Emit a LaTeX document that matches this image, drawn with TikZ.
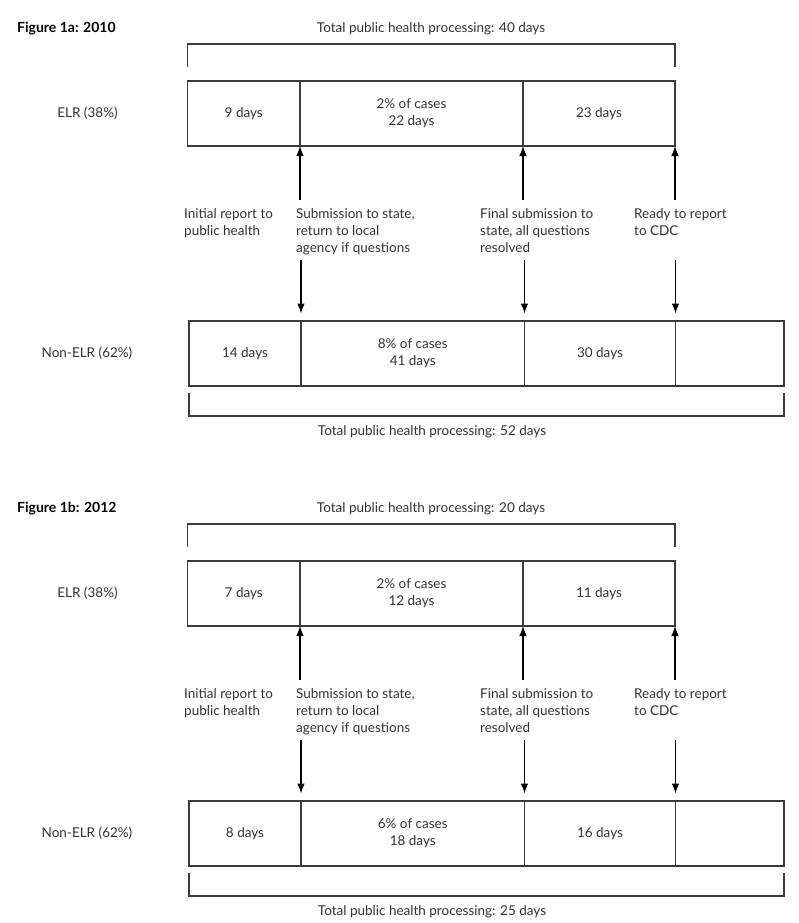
\documentclass[tikz,border=0pt]{standalone}
\usepackage{fontspec}
\setmainfont{Lato}
\usetikzlibrary{arrows.meta}
\definecolor{ink}{HTML}{333333}
\definecolor{rulec}{HTML}{3A3A3A}
\tikzset{
  seg/.style={draw=rulec, line width=1.1pt, anchor=north west, minimum height=65pt,
    inner sep=0pt, outer sep=0pt, align=center, text=ink, font=\fontsize{13.5}{16.7}\selectfont},
  txt/.style={text=ink, inner sep=0pt, font=\fontsize{13.5}{16.7}\selectfont},
  lbl/.style={txt, anchor=north west, align=left},
  figlbl/.style={inner sep=0pt, anchor=base west, text=black, font=\fontsize{14}{16}\selectfont\bfseries},
  arr/.style={draw=black, line width=1.1pt, -{Latex[length=10pt,width=7.5pt]}},
  bracket/.style={draw=rulec, line width=1.1pt},
}
% #1 prefix, #2..#4 ELR segments, #5..#7 Non-ELR segments
\newcommand\drawpanel[7]{%
  \node[seg, minimum width=112.5pt] (#1e1) at (187.5,81) {#2};
  \node[seg, minimum width=223pt]   (#1e2) at (300,81)   {#3};
  \node[seg, minimum width=152pt]   (#1e3) at (523,81)   {#4};
  \node[seg, minimum width=112pt]   (#1n1) at (189,321)  {#5};
  \node[seg, minimum width=223.5pt] (#1n2) at (301,321)  {#6};
  \node[seg, minimum width=151pt]   (#1n3) at (524.5,321) {#7};
  \node[seg, minimum width=108.5pt] (#1n4) at (675.5,321) {};
  \node[txt, anchor=base] (#1elr) at (87.5,117.3) {ELR (38\%)};
  \node[txt, anchor=base] (#1non) at (87,357) {Non-ELR (62\%)};
  % brackets
  \draw[bracket] (187.5,67) -- (187.5,44) -- (675,44) -- (675,67);
  \draw[bracket] (189,393) -- (189,416) -- (784,416) -- (784,393);
  % milestone labels
  \node[lbl] (#1l1) at (184,208.8) {Initial report to\\public health};
  \node[lbl] (#1l2) at (296,208.8) {Submission to state,\\return to local\\agency if questions};
  \node[lbl] (#1l3) at (480,208.8) {Final submission to\\state, all questions\\resolved};
  \node[lbl] (#1l4) at (634,208.8) {Ready to report\\to CDC};
  % up arrows
  \coordinate (#1u1) at (300,200);
  \coordinate (#1u2) at (523,200);
  \coordinate (#1u3) at (675,200);
  \draw[arr] (#1u1) -- (#1e1.south east);
  \draw[arr] (#1u2) -- (#1e2.south east);
  \draw[arr] (#1u3) -- (#1e3.south east);
  % down arrows
  \coordinate (#1d1) at (301,260);
  \coordinate (#1d2) at (524.5,260);
  \coordinate (#1d3) at (675.5,260);
  \draw[arr, shorten >=7.5pt] (#1d1) -- (#1n1.north east);
  \draw[arr, shorten >=7.5pt] (#1d2) -- (#1n2.north east);
  \draw[arr, shorten >=7.5pt] (#1d3) -- (#1n3.north east);
}
\begin{document}
\begin{tikzpicture}[x=1pt,y=-1pt]
  \useasboundingbox[fill=white] (0,0) rectangle (798,923);
  % Figure 1a
  \node[figlbl] (fa) at (17,32.3) {Figure 1a: 2010};
  \node[txt, anchor=base] (ta) at (431,32.3) {Total public health processing: 40 days};
  \node[txt, anchor=base] (ba) at (432,435.7) {Total public health processing: 52 days};
  \drawpanel{a}{9 days}{2\% of cases\\22 days}{23 days}{14 days}{8\% of cases\\41 days}{30 days}
  % Figure 1b
  \begin{scope}[yshift=-480pt]
    \node[figlbl] (fb) at (17,32.3) {Figure 1b: 2012};
    \node[txt, anchor=base] (tb) at (431,32.3) {Total public health processing: 20 days};
    \node[txt, anchor=base] (bb) at (432,435.7) {Total public health processing: 25 days};
    \drawpanel{b}{7 days}{2\% of cases\\12 days}{11 days}{8 days}{6\% of cases\\18 days}{16 days}
  \end{scope}
\end{tikzpicture}
\end{document}
